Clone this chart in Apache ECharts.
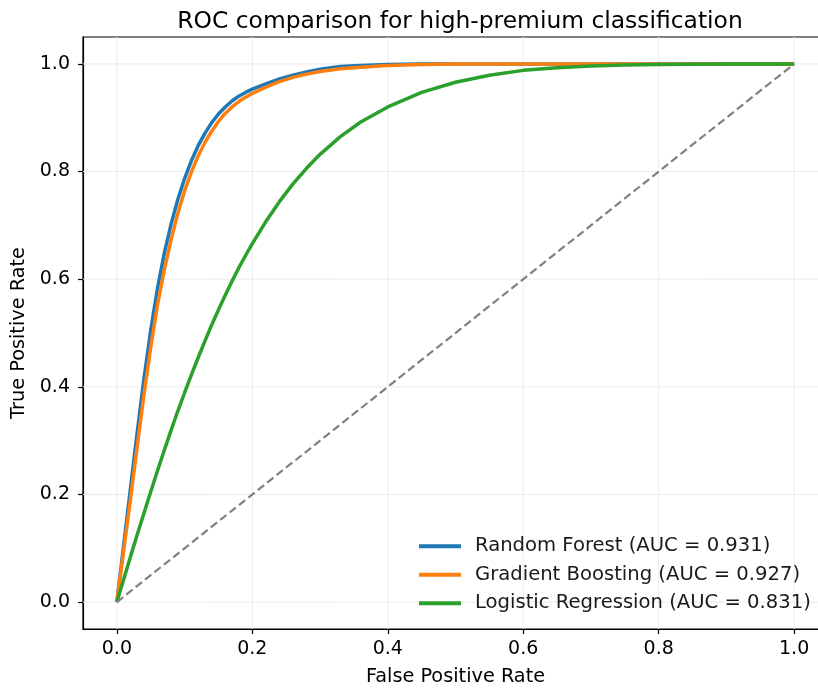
<!DOCTYPE html>
<html>
<head>
<meta charset="utf-8">
<script src="https://cdn.jsdelivr.net/npm/echarts@6/dist/echarts.min.js"></script>
<style>
  html, body { margin: 0; padding: 0; background: #fff; }
  #rocContainer { width: 818px; height: 689px; }
</style>
</head>
<body>
<div id="rocContainer"></div>
<script>
var fpr = [0, 0.01, 0.02, 0.03, 0.04, 0.05, 0.06, 0.07, 0.08, 0.09, 0.10, 0.11, 0.12, 0.13, 0.14, 0.15, 0.16,
    0.17, 0.18, 0.19, 0.20, 0.22, 0.24, 0.26, 0.28, 0.30, 0.33, 0.36, 0.40, 0.45, 0.50, 0.55, 0.60, 0.65,
    0.70, 0.75, 0.80, 0.90, 1.0];
var tprForest = [0, 0.105, 0.21, 0.315, 0.415, 0.505, 0.583, 0.648, 0.702, 0.748, 0.787, 0.82, 0.848, 0.871,
    0.891, 0.907, 0.92, 0.931, 0.94, 0.947, 0.953, 0.963, 0.972, 0.979, 0.985, 0.99, 0.995, 0.997, 0.999,
    1, 1, 1, 1, 1, 1, 1, 1, 1, 1];
var tprBoosting = [0, 0.095, 0.19, 0.288, 0.385, 0.473, 0.552, 0.617, 0.673, 0.722, 0.764, 0.799, 0.829, 0.854,
    0.875, 0.893, 0.908, 0.92, 0.93, 0.938, 0.945, 0.957, 0.967, 0.975, 0.981, 0.986, 0.991, 0.994, 0.997,
    0.999, 1, 1, 1, 1, 1, 1, 1, 1, 1];
var tprLogistic = [0, 0.042, 0.084, 0.125, 0.165, 0.205, 0.244, 0.282, 0.319, 0.355, 0.389, 0.422, 0.454, 0.485,
    0.515, 0.543, 0.57, 0.596, 0.621, 0.644, 0.666, 0.707, 0.744, 0.777, 0.806, 0.832, 0.865, 0.892, 0.92,
    0.947, 0.966, 0.979, 0.988, 0.993, 0.996, 0.998, 0.999, 1, 1];
var modelNames = [
    'Random Forest (AUC = 0.931)',
    'Gradient Boosting (AUC = 0.927)',
    'Logistic Regression (AUC = 0.831)'
];
var chanceLine = [[0, 0], [1, 1]];
var tickValues = [0, 0.2, 0.4, 0.6, 0.8, 1.0];

var dom = document.getElementById('rocContainer');
var myChart = echarts.init(dom, null, { renderer: 'canvas' });

function pairs(xs, ys) {
    return xs.map(function (x, i) { return [x, ys[i]]; });
}

var fontFamily = 'DejaVu Sans, sans-serif';
var gridStyle = { color: '#ebebeb', width: 1 };

// light grid lines at the tick positions, one small series each
var gridSeries = [];
tickValues.forEach(function (v) {
    gridSeries.push({
        type: 'line', silent: true, showSymbol: false, z: 0,
        data: [[v, -0.05], [v, 1.05]], lineStyle: gridStyle, color: '#ebebeb'
    });
    gridSeries.push({
        type: 'line', silent: true, showSymbol: false, z: 0,
        data: [[-0.05, v], [1.05, v]], lineStyle: gridStyle, color: '#ebebeb'
    });
});

function axisCommon(name, gap, labelMargin) {
    return {
        type: 'value',
        min: -0.05,
        max: 1.05,
        name: name,
        nameLocation: 'middle',
        nameGap: gap,
        nameTextStyle: { fontFamily: fontFamily, fontSize: 19.3, color: '#000' },
        axisLine: { show: true, onZero: false, lineStyle: { color: '#000', width: 1.2 } },
        axisTick: { show: true, customValues: tickValues, length: 5, lineStyle: { color: '#000', width: 1.2 } },
        axisLabel: {
            customValues: tickValues, fontFamily: fontFamily, fontSize: 19, color: '#000', margin: labelMargin,
            formatter: function (v) { return v.toFixed(1); }
        },
        splitLine: { show: false }
    };
}

var option = {
    backgroundColor: '#ffffff',
    animation: false,
    title: {
        text: 'ROC comparison for high-premium classification',
        left: 455,
        textAlign: 'center',
        top: 5,
        textStyle: { fontFamily: fontFamily, fontSize: 23.4, fontWeight: 'normal', color: '#000' }
    },
    grid: {
        left: 83,
        top: 37,
        right: -10,
        bottom: 60,
        show: true,
        borderColor: '#000',
        borderWidth: 1.2,
        containLabel: false,
        outerBoundsMode: 'none'
    },
    legend: {
        orient: 'vertical',
        left: 414,
        top: 530,
        icon: 'rect',
        itemWidth: 42,
        itemHeight: 4,
        itemGap: 6,
        data: modelNames,
        textStyle: { fontFamily: fontFamily, fontSize: 19.6, color: '#1a1a1a', lineHeight: 22.5, padding: [0, 0, 0, 9] }
    },
    xAxis: axisCommon('False Positive Rate', 38, 11),
    yAxis: axisCommon('True Positive Rate', 52, 13),
    series: gridSeries.concat([
        {
            name: modelNames[0],
            type: 'line',
            data: pairs(fpr, tprForest),
            showSymbol: false,
            color: '#1f77b4',
            lineStyle: { width: 3.5 },
            z: 3
        },
        {
            name: modelNames[1],
            type: 'line',
            data: pairs(fpr, tprBoosting),
            showSymbol: false,
            color: '#ff7f0e',
            lineStyle: { width: 3.5 },
            z: 4
        },
        {
            name: modelNames[2],
            type: 'line',
            data: pairs(fpr, tprLogistic),
            showSymbol: false,
            color: '#2ca02c',
            lineStyle: { width: 3.5 },
            z: 5
        },
        {
            name: 'chance',
            type: 'line',
            data: chanceLine,
            showSymbol: false,
            color: '#808080',
            lineStyle: { width: 2.2, type: [8, 4] },
            z: 6
        }
    ])
};

if (option && typeof option === 'object') {
    myChart.setOption(option);
}

window.addEventListener('resize', myChart.resize);
</script>
</body>
</html>
